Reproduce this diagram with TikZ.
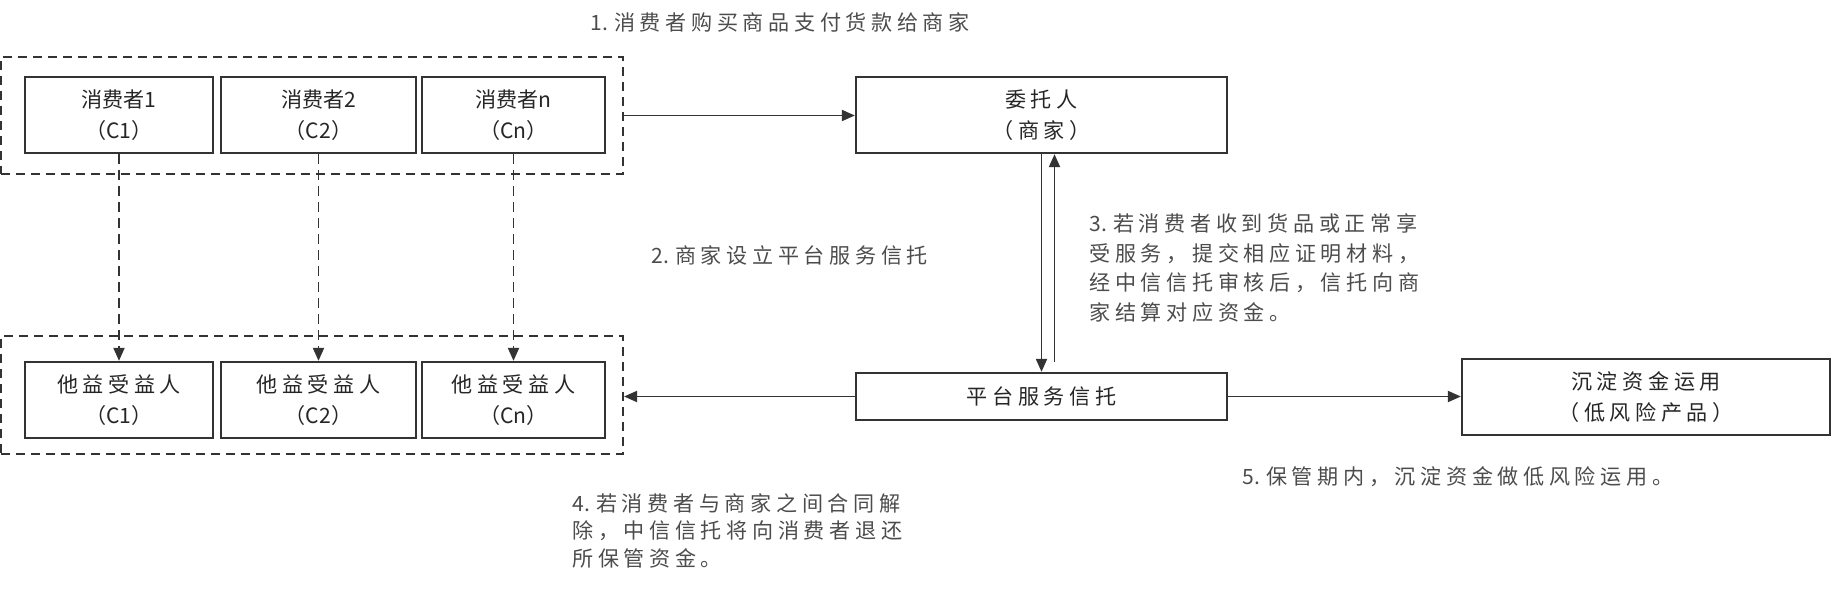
\documentclass[tikz,border=0pt]{standalone}
\usepackage{fontspec}
\setmainfont{Noto Sans CJK SC}[LetterSpace=22]
\newfontfamily\tightfont{Noto Sans CJK SC}
\newcommand\stepnum[1]{{\tightfont #1.}\kern0.3em}
\usetikzlibrary{arrows.meta}

\tikzset{
	cbox/.style={draw=black!80, line width=1.3pt, align=center, inner sep=0pt,
		font=\fontsize{12}{17.6}\selectfont, text=black!85},
	tightbox/.style={cbox, font=\fontsize{12}{17.6}\tightfont},
	grpbox/.style={draw=black!80, line width=1.2pt, dash pattern=on 0.18cm off 0.12cm},
	notetext/.style={anchor=north west, align=left, inner sep=0pt,
		font=\fontsize{12}{17}\selectfont, text=black!70},
	flowline/.style={draw=black!80, line width=1.1pt, -{Triangle[length=0.26cm,width=0.22cm]}},
	dashflow/.style={flowline, dash pattern=on 0.2cm off 0.12cm},
}

\begin{document}
\begin{tikzpicture}
	\useasboundingbox (0,0) rectangle (36.66,-11.8);

	\node[grpbox, minimum width=12.44cm, minimum height=2.34cm] (buyers) at (6.24,-2.31) {};
	\node[grpbox, minimum width=12.44cm, minimum height=2.36cm] (benefs) at (6.24,-7.9) {};

	\node[tightbox, minimum width=3.76cm, minimum height=1.52cm] (c1) at (2.38,-2.3) {消费者1\\（C1）};
	\node[tightbox, minimum width=3.9cm, minimum height=1.52cm]  (c2) at (6.37,-2.3) {消费者2\\（C2）};
	\node[tightbox, minimum width=3.66cm, minimum height=1.52cm] (cn) at (10.27,-2.3) {消费者n\\（Cn）};

	\node[cbox, minimum width=3.76cm, minimum height=1.52cm] (b1) at (2.38,-8.0) {他益受益人\\（{\tightfont C1}）};
	\node[cbox, minimum width=3.9cm, minimum height=1.52cm]  (b2) at (6.37,-8.0) {他益受益人\\（{\tightfont C2}）};
	\node[cbox, minimum width=3.66cm, minimum height=1.52cm] (bn) at (10.27,-8.0) {他益受益人\\（{\tightfont Cn}）};

	\node[cbox, minimum width=7.42cm, minimum height=1.52cm] (principal) at (20.83,-2.3) {委托人\\（商家）};
	\node[cbox, minimum width=7.42cm, minimum height=0.94cm] (trust) at (20.83,-7.93) {平台服务信托};
	\node[cbox, minimum width=7.36cm, minimum height=1.52cm] (deposit) at (32.92,-7.94) {沉淀资金运用\\（低风险产品）};

	\foreach \top/\bot in {c1/b1, c2/b2, cn/bn}
		\draw[dashflow] (\top.south) -- (\bot.north);

	\draw[flowline] (buyers.east) -- (buyers.east -| principal.west);
	\draw[flowline] (principal.south) -- (trust.north);
	\coordinate (back) at ([xshift=0.26cm,yshift=0.2cm]trust.north);
	\draw[flowline] (back) -- (back |- principal.south);
	\draw[flowline] (trust.west) -- (trust.west -| benefs.east);
	\draw[flowline] (trust.east) -- (trust.east -| deposit.west);

	\node[notetext, anchor=west] (step1) at (11.8,-0.44) {\stepnum{1}消费者购买商品支付货款给商家};
	\node[notetext, anchor=west] (step2) at (13.02,-5.1) {\stepnum{2}商家设立平台服务信托};
	\node[notetext] (step3) at (21.78,-4.26) {\stepnum{3}若消费者收到货品或正常享\\受服务，提交相应证明材料，\\经中信信托审核后，信托向商\\家结算对应资金。};
	\node[notetext, font=\fontsize{12}{15.6}\selectfont] (step4) at (11.44,-9.86) {\stepnum{4}若消费者与商家之间合同解\\除，中信信托将向消费者退还\\所保管资金。};
	\node[notetext, anchor=west] (step5) at (24.84,-9.54) {\stepnum{5}保管期内，沉淀资金做低风险运用。};
\end{tikzpicture}
\end{document}
